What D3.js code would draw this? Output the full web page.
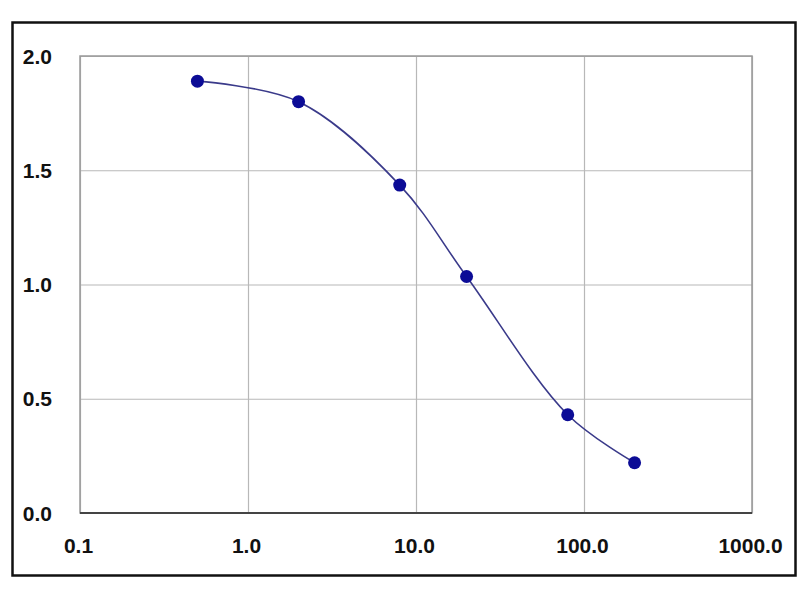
<!DOCTYPE html>
<html><head><meta charset="utf-8">
<script src="https://cdn.jsdelivr.net/npm/d3@7"></script>
<style>body{margin:0;background:#fff;}svg{display:block;}</style>
</head><body>
<svg id="c" width="800" height="600"></svg>
<script>
const concentrations = [0.5, 2, 8, 20, 80, 200];
const absorbance = [1.89, 1.80, 1.435, 1.035, 0.43, 0.22];
const xTicks = [0.1, 1, 10, 100, 1000];
const xTickLabels = ["0.1", "1.0", "10.0", "100.0", "1000.0"];
const yTicks = [0, 0.5, 1.0, 1.5, 2.0];
const yTickLabels = ["0.0", "0.5", "1.0", "1.5", "2.0"];

const svg = d3.select("#c");
const L = 80, R = 752, T = 56, B = 513;
const x = d3.scaleLog().domain([0.1, 1000]).range([L, R]);
const y = d3.scaleLinear().domain([0, 2]).range([B, T]);

// outer frame
svg.append("rect").attr("x", 12.5).attr("y", 22.5).attr("width", 783).attr("height", 553)
  .attr("fill", "#fff").attr("stroke", "#111").attr("stroke-width", 2.5);

// grid
const xAxis = d3.axisBottom(x).tickValues(xTicks).tickSize(-(B - T)).tickFormat("");
const gx = svg.append("g").attr("transform", `translate(0,${B})`).call(xAxis);
gx.select(".domain").remove();
gx.selectAll("line").attr("stroke", "#b8b8b8").attr("stroke-width", 1.2);

const yAxis = d3.axisLeft(y).tickValues(yTicks).tickSize(-(R - L)).tickFormat("");
const gy = svg.append("g").attr("transform", `translate(${L},0)`).call(yAxis);
gy.select(".domain").remove();
gy.selectAll("line").attr("stroke", "#b8b8b8").attr("stroke-width", 1.2);

// plot frame
svg.append("rect").attr("x", L).attr("y", T).attr("width", R - L).attr("height", B - T)
  .attr("fill", "none").attr("stroke", "#999").attr("stroke-width", 1.5);
svg.append("line").attr("x1", L).attr("x2", R).attr("y1", B).attr("y2", B)
  .attr("stroke", "#444").attr("stroke-width", 2);

// labels
const font = "'Liberation Sans', Arial, sans-serif";
svg.append("g").selectAll("text").data(xTicks).join("text")
  .attr("x", d => x(d) - 1.5).attr("y", 553).attr("text-anchor", "middle")
  .attr("font-family", font).attr("font-weight", "bold").attr("font-size", 21)
  .attr("fill", "#111").text((d, i) => xTickLabels[i]);
svg.append("g").selectAll("text").data(yTicks).join("text")
  .attr("x", 52).attr("y", d => y(d) + 7.5).attr("text-anchor", "end")
  .attr("font-family", font).attr("font-weight", "bold").attr("font-size", 21)
  .attr("fill", "#111").text((d, i) => yTickLabels[i]);

// curve
const pts = concentrations.map((c, i) => [c, absorbance[i]]);
const line = d3.line().x(d => x(d[0])).y(d => y(d[1])).curve(d3.curveCatmullRom.alpha(0.5));
svg.append("path").datum(pts).attr("d", line).attr("fill", "none")
  .attr("stroke", "#3a3a8a").attr("stroke-width", 1.6);

svg.append("g").selectAll("circle").data(pts).join("circle")
  .attr("cx", d => x(d[0])).attr("cy", d => y(d[1])).attr("r", 6.5)
  .attr("fill", "#0c0c96");
</script>
</body></html>
